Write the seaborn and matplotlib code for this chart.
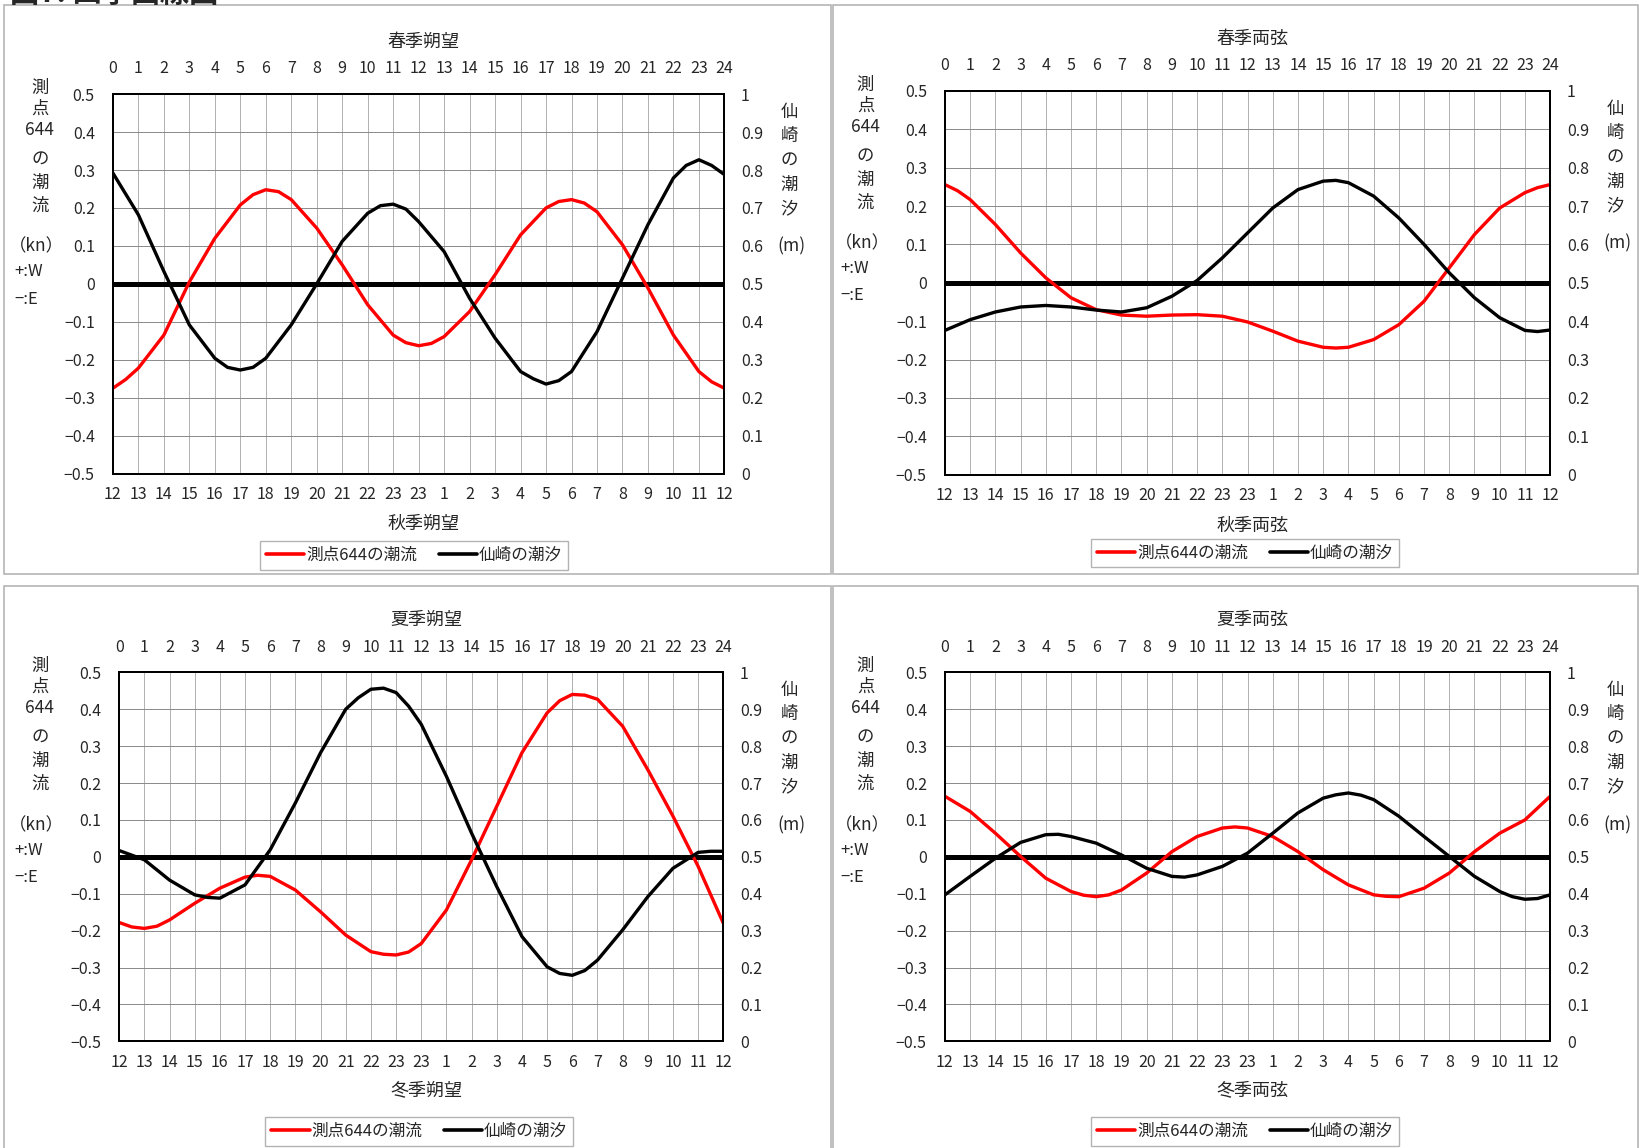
import numpy as np
import pandas as pd
import matplotlib
matplotlib.use("Agg")
import matplotlib.pyplot as plt
from matplotlib.patches import Rectangle
from matplotlib.lines import Line2D
import seaborn as sns

sns.set_style("white")
plt.rcParams['font.family'] = ['Noto Sans CJK JP', 'DejaVu Sans']
plt.rcParams['axes.unicode_minus'] = True

# ---------------- data ----------------
hours = list(range(25))
top_labels = [str(h) for h in range(25)]
bottom_labels = ["12", "13", "14", "15", "16", "17", "18", "19", "20", "21", "22", "23",
                 "23", "1", "2", "3", "4", "5", "6", "7", "8", "9", "10", "11", "12"]

# --- 春季朔望 / 秋季朔望 ---
cur1_h = [0, 0.5, 1, 2, 3, 4, 5, 5.5, 6, 6.5, 7, 8, 9, 10, 11, 11.5, 12, 12.5, 13, 14, 15,
          16, 17, 17.5, 18, 18.5, 19, 20, 21, 22, 23, 23.5, 24]
cur1_v = [-0.275, -0.252, -0.222, -0.135, 0.005, 0.12, 0.208, 0.235, 0.248, 0.243, 0.222,
          0.147, 0.05, -0.055, -0.135, -0.155, -0.163, -0.157, -0.139, -0.073, 0.024,
          0.129, 0.2, 0.217, 0.222, 0.213, 0.19, 0.103, -0.011, -0.135, -0.231, -0.258, -0.275]
tide1_h = [0, 1, 2, 3, 4, 4.5, 5, 5.5, 6, 7, 8, 9, 10, 10.5, 11, 11.5, 12, 13, 14, 15, 16,
           16.5, 17, 17.5, 18, 19, 20, 21, 22, 22.5, 23, 23.5, 24]
tide1_v = [0.792, 0.682, 0.533, 0.392, 0.304, 0.28, 0.273, 0.28, 0.304, 0.392, 0.5, 0.612,
           0.686, 0.706, 0.71, 0.697, 0.664, 0.585, 0.462, 0.357, 0.269, 0.25, 0.236, 0.245,
           0.269, 0.374, 0.515, 0.656, 0.779, 0.812, 0.827, 0.812, 0.788]

# --- 春季両弦 / 秋季両弦 ---
cur2_h = [0, 0.5, 1, 2, 3, 4, 5, 6, 7, 8, 9, 10, 11, 12, 13, 14, 15, 15.5, 16, 17, 18, 19,
          20, 21, 22, 23, 23.5, 24]
cur2_v = [0.256, 0.24, 0.217, 0.152, 0.078, 0.013, -0.039, -0.07, -0.084, -0.087, -0.084,
          -0.083, -0.087, -0.102, -0.126, -0.152, -0.168, -0.17, -0.168, -0.148, -0.109,
          -0.048, 0.039, 0.126, 0.195, 0.235, 0.248, 0.256]
tide2_h = [0, 1, 2, 3, 4, 5, 6, 7, 8, 9, 10, 11, 12, 13, 14, 15, 15.5, 16, 17, 18, 19, 20,
           21, 22, 23, 23.5, 24]
tide2_v = [0.376, 0.404, 0.424, 0.437, 0.441, 0.437, 0.429, 0.424, 0.435, 0.465, 0.506,
           0.565, 0.63, 0.695, 0.743, 0.765, 0.767, 0.761, 0.726, 0.669, 0.6, 0.526, 0.461,
           0.409, 0.376, 0.373, 0.377]

# --- 夏季朔望 / 冬季朔望 ---
cur3_h = [0, 0.5, 1, 1.5, 2, 3, 4, 5, 5.5, 6, 7, 8, 9, 10, 10.5, 11, 11.5, 12, 13, 14, 15,
          16, 17, 17.5, 18, 18.5, 19, 20, 21, 22, 23, 24]
cur3_v = [-0.178, -0.19, -0.194, -0.188, -0.171, -0.126, -0.085, -0.055, -0.05, -0.053,
          -0.09, -0.149, -0.212, -0.257, -0.264, -0.266, -0.258, -0.235, -0.144, -0.008,
          0.137, 0.282, 0.39, 0.423, 0.44, 0.438, 0.427, 0.354, 0.236, 0.11, -0.026, -0.18]
tide3_h = [0, 1, 2, 3, 3.5, 4, 5, 6, 7, 8, 9, 9.5, 10, 10.5, 11, 11.5, 12, 13, 14, 15, 16,
           17, 17.5, 18, 18.5, 19, 20, 21, 22, 23, 23.5, 24]
tide3_v = [0.517, 0.492, 0.437, 0.397, 0.39, 0.388, 0.424, 0.519, 0.646, 0.782, 0.9, 0.931,
           0.954, 0.957, 0.945, 0.908, 0.859, 0.718, 0.564, 0.419, 0.284, 0.202, 0.184,
           0.179, 0.192, 0.22, 0.302, 0.392, 0.469, 0.512, 0.515, 0.515]

# --- 夏季両弦 / 冬季両弦 ---
cur4_h = [0, 1, 2, 3, 4, 5, 5.5, 6, 6.5, 7, 8, 9, 10, 11, 11.5, 12, 13, 14, 15, 16, 17,
          17.5, 18, 19, 20, 21, 22, 23, 24]
cur4_v = [0.164, 0.123, 0.064, 0.001, -0.058, -0.094, -0.104, -0.108, -0.103, -0.09,
          -0.044, 0.014, 0.055, 0.078, 0.081, 0.078, 0.055, 0.014, -0.035, -0.076, -0.103,
          -0.107, -0.108, -0.085, -0.044, 0.014, 0.064, 0.1, 0.164]
tide4_h = [0, 1, 2, 3, 4, 4.5, 5, 6, 7, 8, 9, 9.5, 10, 11, 12, 13, 14, 15, 15.5, 16, 16.5,
           17, 18, 19, 20, 21, 22, 22.5, 23, 23.5, 24]
tide4_v = [0.397, 0.447, 0.496, 0.539, 0.56, 0.561, 0.555, 0.537, 0.505, 0.469, 0.447,
           0.445, 0.451, 0.474, 0.51, 0.564, 0.619, 0.659, 0.668, 0.673, 0.667, 0.655, 0.61,
           0.555, 0.501, 0.447, 0.406, 0.392, 0.385, 0.387, 0.397]

top_titles = ["春季朔望", "春季両弦", "夏季朔望", "夏季両弦"]
bottom_titles = ["秋季朔望", "秋季両弦", "冬季朔望", "冬季両弦"]
current_label = "測点644の潮流"
tide_label = "仙崎の潮汐"
left_ticks = [-0.5, -0.4, -0.3, -0.2, -0.1, 0.0, 0.1, 0.2, 0.3, 0.4, 0.5]
right_ticks = [0.0, 0.1, 0.2, 0.3, 0.4, 0.5, 0.6, 0.7, 0.8, 0.9, 1.0]

currents = [(cur1_h, cur1_v), (cur2_h, cur2_v), (cur3_h, cur3_v), (cur4_h, cur4_v)]
tides = [(tide1_h, tide1_v), (tide2_h, tide2_v), (tide3_h, tide3_v), (tide4_h, tide4_v)]

# ---------------- layout (in 1568x1098 reference pixel space) ----------------
W, H = 1568.0, 1098.0
fig = plt.figure(figsize=(16.39, 11.48), dpi=100)


def fx(x):
    return x / W


def fy(y):
    return 1 - y / H


boxes = [(108, 693, 90, 453), (904, 1483, 87, 454), (114, 692, 643, 996), (904, 1483, 643, 996)]
title_pos = [(405, 40), (1198, 37), (408, 593), (1198, 593)]
btitle_pos = [(405, 501), (1198, 503), (408, 1043), (1198, 1043)]
legend_pos = [(396, 531), (1191, 529), (401, 1082), (1191, 1082)]
left_lab_x = [38, 828, 38, 828]
right_lab_x = [755, 1545, 755, 1545]

# panel frames
for (x0, y0, x1, y1) in [(4, 5, 795, 549), (797, 5, 1567, 549), (4, 560, 795, 1100), (797, 560, 1567, 1100)]:
    fig.patches.append(Rectangle((fx(x0), fy(y1)), fx(x1) - fx(x0), fy(y0) - fy(y1),
                                 transform=fig.transFigure, fill=False, edgecolor="#b5b5b5",
                                 linewidth=1.2, zorder=0))

fig.text(fx(10), 1 + 22 / 1148, "図7. 四季曲線図", fontsize=21, fontweight="bold",
         va="top", ha="left")

tick_fs = 11.5


def fmt_left(v):
    if abs(v) < 1e-9:
        return "0"
    s = f"{v:.1f}"
    return s.replace("-", "−")


def fmt_right(v):
    if abs(v) < 1e-9:
        return "0"
    if abs(v - 1) < 1e-9:
        return "1"
    return f"{v:.1f}"


for i in range(4):
    l, r, t, b = boxes[i]
    ax = fig.add_axes([fx(l), fy(b), fx(r) - fx(l), fy(t) - fy(b)])
    dfc = pd.DataFrame({"hour": currents[i][0], "current": currents[i][1]})
    dft = pd.DataFrame({"hour": tides[i][0], "tide": tides[i][1]})

    ax.set_xlim(0, 24)
    ax.set_ylim(-0.5, 0.5)
    ax.set_xticks(hours)
    ax.set_xticklabels(bottom_labels, fontsize=tick_fs)
    ax.set_yticks(left_ticks)
    ax.set_yticklabels([fmt_left(v) for v in left_ticks], fontsize=tick_fs)
    ax.tick_params(axis="both", length=0)
    ax.tick_params(axis="x", pad=9)
    ax.tick_params(axis="y", pad=13)
    ax.grid(True, axis="x", color="#b0b0b0", linewidth=0.7)
    ax.grid(True, axis="y", color="#8a8a8a", linewidth=0.7)
    ax.set_axisbelow(True)
    for sp in ax.spines.values():
        sp.set_color("black")
        sp.set_linewidth(1.4)
    ax.axhline(0, color="black", linewidth=3.6, zorder=2)

    sns.lineplot(data=dfc, x="hour", y="current", ax=ax, color="#ff0000", linewidth=2.4,
                 zorder=3, legend=False)
    ax.set_xlabel("")
    ax.set_ylabel("")

    ax2 = ax.twinx()
    ax2.set_ylim(0, 1)
    sns.lineplot(data=dft, x="hour", y="tide", ax=ax2, color="black", linewidth=2.4,
                 zorder=3, legend=False)
    ax2.set_xlim(0, 24)
    ax2.set_yticks(right_ticks)
    ax2.set_yticklabels([fmt_right(v) for v in right_ticks], fontsize=tick_fs)
    ax2.tick_params(axis="y", length=0, pad=12)
    ax2.set_ylabel("")
    ax2.set_xlabel("")
    for sp in ax2.spines.values():
        sp.set_color("black")
        sp.set_linewidth(1.4)

    sec = ax.secondary_xaxis("top")
    sec.set_xticks(hours)
    sec.set_xticklabels(top_labels, fontsize=tick_fs)
    sec.tick_params(length=0, pad=12)
    sec.spines["top"].set_visible(False)

    # titles
    fig.text(fx(title_pos[i][0]), fy(title_pos[i][1]), top_titles[i], fontsize=13,
             ha="center", va="center")
    fig.text(fx(btitle_pos[i][0]), fy(btitle_pos[i][1]), bottom_titles[i], fontsize=13,
             ha="center", va="center")

    # left axis label (vertical stacked)
    lx = left_lab_x[i]
    for txt, dy in [("測", -6), ("点", 14), ("644", 34), ("の", 63), ("潮", 85), ("流", 107)]:
        fig.text(fx(lx), fy(t + dy), txt, fontsize=12.5, ha="center", va="center")
    fig.text(fx(lx - 3), fy(t + 146), "（kn）", fontsize=12.5, ha="center", va="center")
    fig.text(fx(lx - 24), fy(t + 170), "+:W", fontsize=12, ha="left", va="center")
    fig.text(fx(lx - 24), fy(t + 196), "−:E", fontsize=12, ha="left", va="center")

    rx = right_lab_x[i]
    for txt, dy in [("仙", 17), ("崎", 40), ("の", 64), ("潮", 87), ("汐", 109)]:
        fig.text(fx(rx), fy(t + dy), txt, fontsize=12.5, ha="center", va="center")
    fig.text(fx(rx + 2), fy(t + 146), "(m)", fontsize=12.5, ha="center", va="center")

    # legend
    handles = [Line2D([], [], color="#ff0000", linewidth=2.6),
               Line2D([], [], color="black", linewidth=2.6)]
    leg = fig.legend(handles, [current_label, tide_label], ncol=2, loc="center",
                     bbox_to_anchor=(fx(legend_pos[i][0]), fy(legend_pos[i][1])),
                     fontsize=12, frameon=True, fancybox=False, handlelength=2.3,
                     handletextpad=0.1, columnspacing=1.3, borderpad=0.35)
    leg.get_frame().set_edgecolor("#a0a0a0")
    leg.get_frame().set_linewidth(1.0)

fig.savefig("out.png", dpi=100)
